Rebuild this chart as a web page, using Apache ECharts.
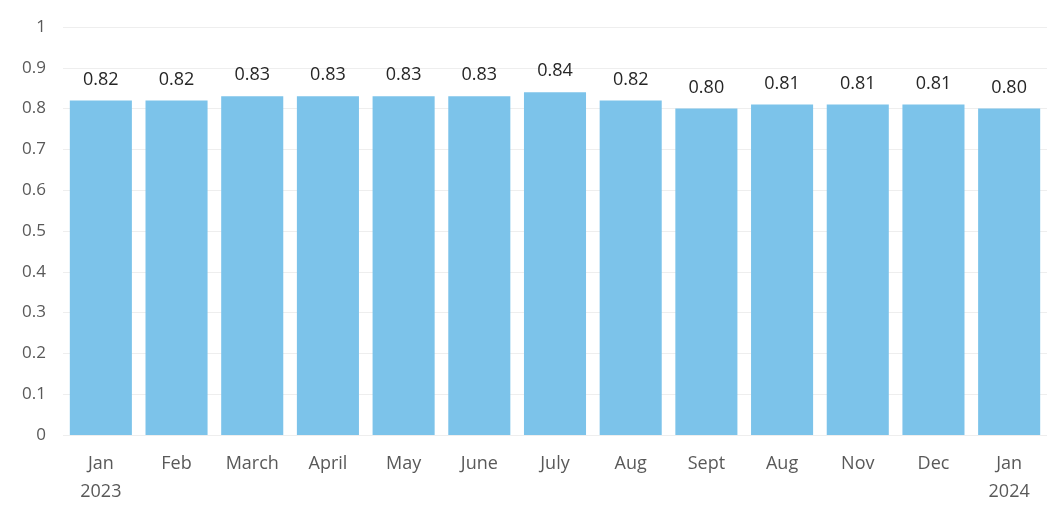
<!DOCTYPE html>
<html>
<head>
<meta charset="utf-8">
<script src="https://cdn.jsdelivr.net/npm/echarts@6/dist/echarts.min.js"></script>
<style>html,body{margin:0;padding:0;background:#fff;}#c{width:1047px;height:506px;}</style>
</head>
<body>
<div id="c"></div>
<script>
const categories = ["Jan\n2023","Feb","March","April","May","June","July","Aug","Sept","Aug","Nov","Dec","Jan\n2024"];
const values = [0.82,0.82,0.83,0.83,0.83,0.83,0.84,0.82,0.80,0.81,0.81,0.81,0.80];
const yTicks = {min:0, max:1, interval:0.1};

const FONT = '"Open Sans", sans-serif';
const chart = echarts.init(document.getElementById('c'), null, {renderer:'canvas'});
chart.setOption({
  animation:false,
  grid:{left:63, right:0, top:27, bottom:71, containLabel:false},
  xAxis:{
    type:'category', data:categories,
    axisLine:{show:false}, axisTick:{show:false},
    axisLabel:{color:'#595959', fontSize:18, fontFamily:FONT, margin:15, lineHeight:28, interval:0}
  },
  yAxis:{
    type:'value', min:yTicks.min, max:yTicks.max, interval:yTicks.interval,
    axisLine:{show:false}, axisTick:{show:false},
    splitLine:{lineStyle:{color:'#eeeeee', width:1}},
    axisLabel:{color:'#595959', fontSize:17, fontFamily:FONT, margin:17,
      formatter:v=>String(Math.round(v*10)/10)}
  },
  series:[{
    type:'bar', data:values, barCategoryGap:'18%',
    itemStyle:{color:'#7cc3ea'},
    label:{show:true, position:'top', distance:12, color:'#262626', fontSize:18,
      fontFamily:FONT, formatter:p=>p.value.toFixed(2)}
  }]
});
</script>
</body>
</html>
